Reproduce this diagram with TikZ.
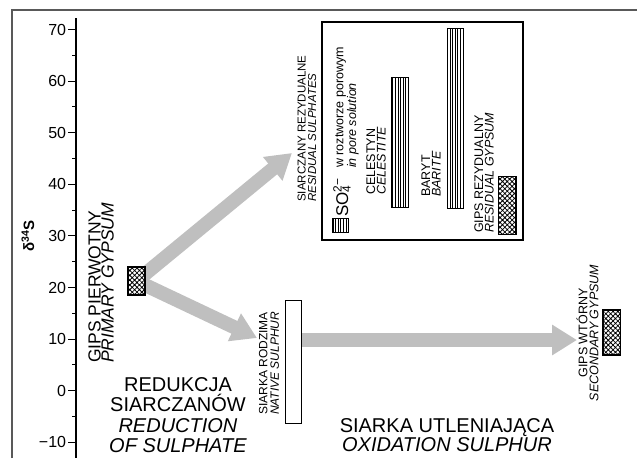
\documentclass[tikz,border=0pt]{standalone}
\usepackage{fontspec}
\setmainfont{Liberation Sans}
\usetikzlibrary{arrows.meta,patterns.meta,backgrounds}
\tikzset{
  gyps/.style={draw, line width=1.4pt, preaction={fill=white},
    pattern={Hatch[angle=45,distance=3.4pt,line width=0.8pt]}, inner sep=0pt},
  lined/.style={draw, line width=1.2pt, preaction={fill=white},
    pattern={Lines[angle=90,distance=2.6pt,line width=0.5pt]}, inner sep=0pt},
  plainbox/.style={draw, line width=1.2pt, fill=white, inner sep=0pt},
  flow/.style={line width=14pt, gray!50, -{Triangle[width=29pt,length=25pt]}},
  vlab/.style={rotate=90, anchor=west, align=left, inner sep=0pt},
  hlab/.style={anchor=north, align=center, inner sep=0pt},
}
\newcommand{\dval}[1]{390.7-5.16*#1}
\begin{document}
\begin{tikzpicture}[x=1pt,y=-1pt]
\useasboundingbox (0,0) rectangle (637,458);

\draw[black!65, line width=1.5pt] (12,458) -- (12,10) -- (637,10);

\draw[line width=1.1pt] (76,18) -- (76,458);
\foreach \v in {-5,5,...,65}
  \draw[line width=0.9pt] (76,{\dval{\v}}) -- ++(-4.5,0);
\foreach \v/\lab in {-10/{−10},0/0,10/10,20/20,30/30,40/40,50/50,60/60,70/70}
  \draw[line width=0.9pt] (76,{\dval{\v}}) -- ++(-8,0)
    node[left, inner sep=1.5pt, font=\fontsize{16}{16}\selectfont] {\lab};
\node[rotate=90, inner sep=0pt, font=\fontsize{15}{15}\selectfont\bfseries] (dlab) at (28,236) {δ\textsuperscript{34}S};

\node[draw, line width=1.5pt, minimum width=201pt, minimum height=218pt, inner sep=0pt] (inset) at (422.5,131) {};

\node[gyps, minimum width=17pt, minimum height=28pt] (pg) at (136.5,281) {};
\node[plainbox, minimum width=16pt, minimum height=122.6pt] (ns) at (293.7,362) {};
\node[gyps, minimum width=17.7pt, minimum height=45pt] (sg) at (611.9,332.5) {};
\node[gyps, minimum width=17.7pt, minimum height=57.6pt] (rg) at (507.2,205.5) {};
\node[lined, minimum width=16.6pt, minimum height=129.6pt] (cel) at (400,142.5) {};
\node[lined, minimum width=15.6pt, minimum height=180pt] (bar) at (455.5,118.3) {};
\node[lined, minimum width=15.6pt, minimum height=14pt] (leg) at (340.5,225.3) {};

\node[vlab, font=\fontsize{17.5}{13}\selectfont] (pglab) at (101,363) {GIPS PIERWOTNY\\\textit{PRIMARY GYPSUM}};
\node[vlab, font=\fontsize{11.5}{10.5}\selectfont] (rslab) at (307,202) {SIARCZANY REZYDUALNE\\\textit{RESIDUAL SULPHATES}};
\node[vlab, font=\fontsize{12}{11.5}\selectfont] (nslab) at (269,415) {SIARKA RODZIMA\\\textit{NATIVE SULPHUR}};
\node[vlab, font=\fontsize{12.5}{10.5}\selectfont] (cellab) at (376,195) {CELESTYN\\\textit{CELESTITE}};
\node[vlab, font=\fontsize{12.5}{10.5}\selectfont] (barlab) at (431,197) {BARYT\\\textit{BARITE}};
\node[vlab, font=\fontsize{12.5}{10.5}\selectfont] (rglab) at (484,233) {GIPS REZYDUALNY\\\textit{RESIDUAL GYPSUM}};
\node[vlab, anchor=center, align=center, font=\fontsize{12.5}{11}\selectfont] (sglab) at (587.5,333) {GIPS WTÓRNY\\\textit{SECONDARY GYPSUM}};
\node[rotate=90, anchor=base west, inner sep=0pt, font=\fontsize{17}{17}\selectfont] (so) at (348,217) {SO\rlap{\textsuperscript{2−}}\textsubscript{4}};
\node[vlab, font=\fontsize{12.5}{10.5}\selectfont] (leglab) at (347,168) {w roztworze porowym\\\textit{in pore solution}};

\node[hlab, font=\fontsize{20}{20.5}\selectfont] (redlab) at (178,377) {REDUKCJA\\SIARCZANÓW\\\textit{REDUCTION}\\\textit{OF SULPHATE}};
\node[hlab, font=\fontsize{20}{17.5}\selectfont] (oxlab) at (447,418) {SIARKA UTLENIAJĄCA\\\textit{OXIDATION SULPHUR}};

\coordinate (tipR) at (292,153);
\coordinate (tipN) at (257,338);
\coordinate (tipS) at (577,340);
\begin{scope}[on background layer]
\draw[flow] (pg.center) -- (tipR);
\draw[flow] (pg.center) -- (tipN);
\draw[flow] (ns.center |- tipS) -- (tipS);
\end{scope}
\end{tikzpicture}
\end{document}
